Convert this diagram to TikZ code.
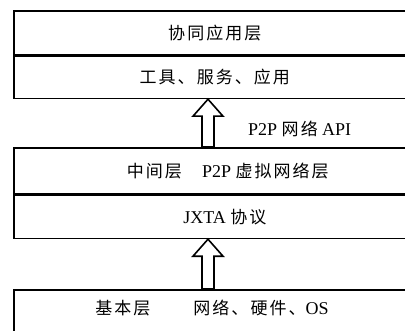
\documentclass[tikz,border=0pt]{standalone}
\usepackage{fontspec}
\setmainfont{Liberation Serif}
\newfontfamily\cjk[LetterSpace=12,Scale=0.944]{Noto Sans CJK SC}
\usetikzlibrary{calc}
\begin{document}
\begin{tikzpicture}[x=1pt,y=1pt,
  box/.style={draw, line width=1.6pt, minimum width=402pt, inner sep=0pt, anchor=north west},
  lbl/.style={inner sep=0pt, font=\fontsize{18}{21}\selectfont},
  blockarrow/.style={draw, line width=1.6pt, fill=white, line join=miter}]
\useasboundingbox (0,0) rectangle (405,330);
\clip (0,0) rectangle (405,330);
% boxes
\node[box, minimum height=44pt] (app) at (13,320) {};
\node[box, minimum height=42pt] (tools) at (app.south west) {};
\node[box, minimum height=46pt] (mid) at (13,183) {};
\node[box, minimum height=43pt] (jxta) at (mid.south west) {};
\node[box, minimum height=60pt] (base) at (13,41) {};
% texts
\node[lbl] (appt) at (app.center) {\cjk 协同应用层};
\node[lbl] (toolst) at (tools.center) {\cjk 工具、服务、应用};
\node[lbl, xshift=13pt] (midt) at (mid.center) {{\cjk 中间层}\hspace{20pt}P2P {\cjk 虚拟网络层}};
\node[lbl, xshift=10pt] (jxtat) at (jxta.center) {JXTA {\cjk 协议}};
\node[lbl] (baset) at (212,22) {{\cjk 基本层}\hspace{43pt}{\cjk 网络、硬件、}OS};
\node[lbl, anchor=west] (api) at (248,201) {P2P {\cjk 网络} API};
% block arrows
\coordinate (ax) at (208,0);
\draw[blockarrow] (tools.south -| ax) -- ++(-15,-17) -- ++(9,0)
  -- ($(mid.north -| ax)+(-6,0)$) -- ($(mid.north -| ax)+(6,0)$)
  -- ($(tools.south -| ax)+(6,-17)$) -- ++(9,0) -- cycle;
\draw[blockarrow] (jxta.south -| ax) -- ++(-15,-17) -- ++(9,0)
  -- ($(base.north -| ax)+(-6,0)$) -- ($(base.north -| ax)+(6,0)$)
  -- ($(jxta.south -| ax)+(6,-17)$) -- ++(9,0) -- cycle;
\end{tikzpicture}
\end{document}
